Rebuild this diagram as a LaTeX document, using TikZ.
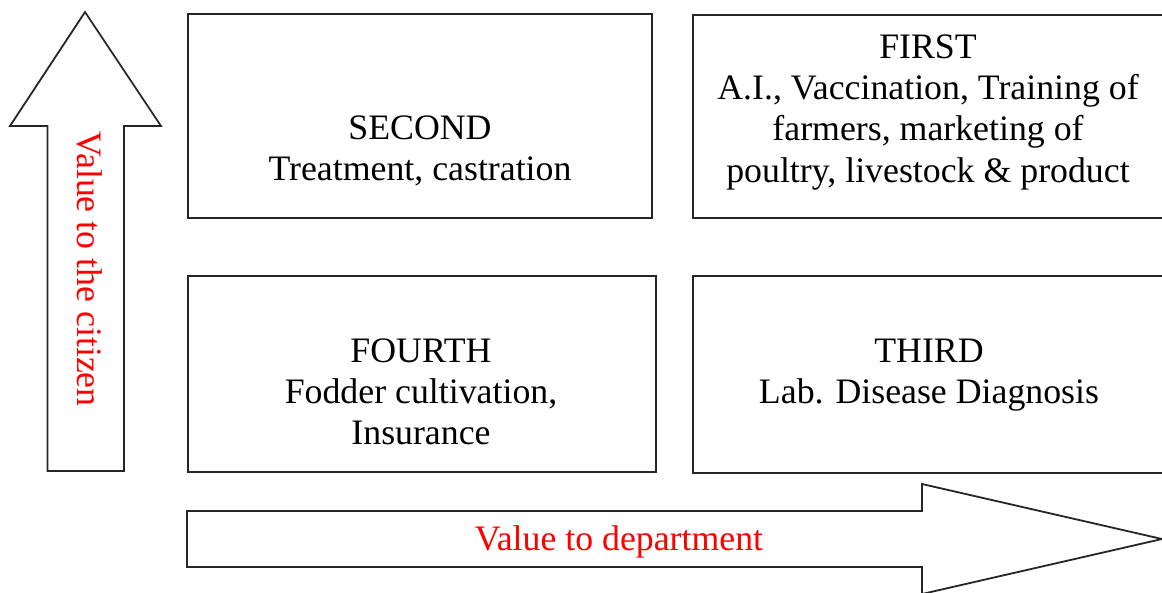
\documentclass[tikz,border=0pt]{standalone}
\usepackage{fontspec}
\setmainfont{Liberation Serif}
\begin{document}
\begin{tikzpicture}[x=1pt,y=-1pt,
  outline/.style={draw=black!85,line width=1.8pt,line join=miter},
  box/.style={draw=black!85,line width=1.8pt,inner sep=0pt,anchor=north west},
  boxtext/.style={align=center,inner sep=0pt,anchor=base,font=\fontsize{35.8}{41.3}\selectfont},
  axislabel/.style={text=red,inner sep=0pt,anchor=base,font=\fontsize{35.8}{41.3}\selectfont}]
\useasboundingbox (0,0) rectangle (1162,592);
\fill[white] (0,0) rectangle (1162,592);
\begin{scope}
\clip (0,0) rectangle (1162,592);
% vertical arrow
\draw[outline] (85,12) -- (161,126) -- (124,126) -- (124,471) -- (47.5,471) -- (47.5,126) -- (10,126) -- cycle;
% horizontal arrow
\draw[outline] (187,511) -- (922,511) -- (922,484) -- (1162,539) -- (922,594) -- (922,567) -- (187,567) -- cycle;
% boxes
\node[box,minimum width=464pt,minimum height=204pt] (second) at (187,13) {};
\node[box,minimum width=480pt,minimum height=203pt] (first) at (692,14) {};
\node[box,minimum width=468pt,minimum height=196pt] (fourth) at (187,275) {};
\node[box,minimum width=480pt,minimum height=197pt] (third) at (692,275) {};
% texts (anchor base = baseline of the last line)
\node[boxtext] (secondtext) at (420,180.5) {SECOND\\Treatment, castration};
\node[boxtext] (firsttext) at (928,182) {FIRST\\A.I., Vaccination, Training of\\farmers, marketing of\\poultry, livestock \& product};
\node[boxtext] (fourthtext) at (421,444.6) {FOURTH\\Fodder cultivation,\\Insurance};
\node[boxtext] (thirdtext) at (929,403.3) {THIRD\\Lab. Disease Diagnosis};
\node[axislabel] (deptlabel) at (619,550.7) {Value to department};
\node[axislabel,rotate=-90] (citizenlabel) at (77,269) {Value to the citizen};
\end{scope}
\end{tikzpicture}
\end{document}
